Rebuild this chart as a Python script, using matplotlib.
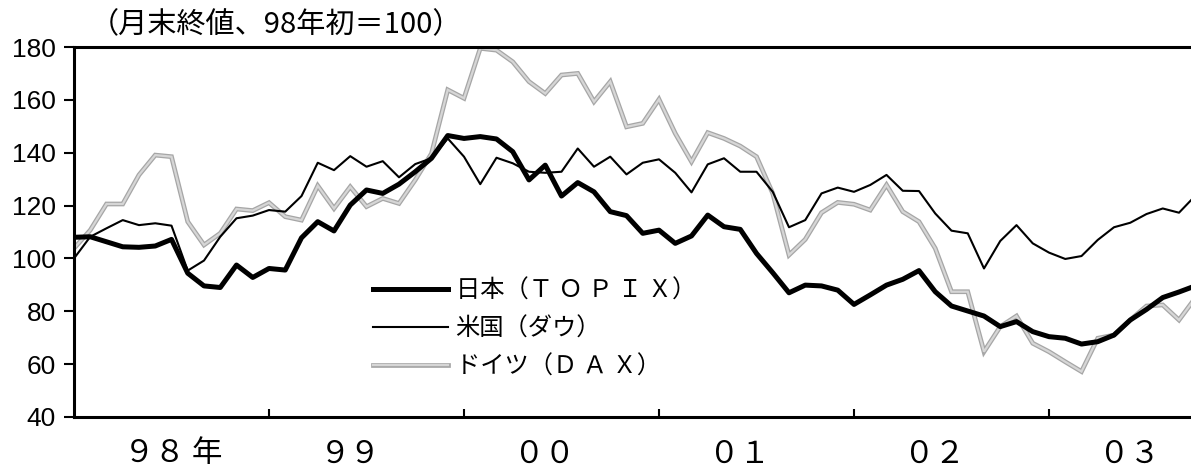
import numpy as np
import matplotlib
matplotlib.use("Agg")
import matplotlib.pyplot as plt
import matplotlib.patheffects as pe
import matplotlib.transforms as mtransforms

# Month-end closes, Jan 1998 .. Oct 2003, indexed to start of 1998 = 100
topix = [108.0, 108.2, 106.3, 104.4, 104.2, 104.7, 107.2, 94.4, 89.6, 89.0, 97.5, 92.8,
         96.2, 95.6, 107.8, 113.9, 110.4, 120.2, 125.9, 124.6, 128.1, 132.8, 137.9, 146.5,
         145.4, 146.1, 145.2, 140.4, 129.7, 135.3, 123.6, 128.7, 125.2, 117.7, 116.2, 109.5,
         110.7, 105.7, 108.5, 116.4, 112.0, 111.0, 101.9, 94.6, 87.0, 89.9, 89.6, 88.0,
         82.6, 86.2, 89.9, 92.1, 95.4, 87.4, 82.0, 80.1, 78.2, 74.2, 76.1, 72.3,
         70.4, 69.8, 67.6, 68.5, 71.0, 76.7, 80.7, 85.2, 87.3, 89.6]
dow = [100.0, 108.2, 111.4, 114.5, 112.6, 113.3, 112.4, 95.4, 99.2, 108.2, 115.2, 116.2,
       118.3, 117.7, 123.6, 136.2, 133.4, 138.7, 134.7, 136.8, 130.7, 135.7, 137.9, 145.4,
       138.5, 128.1, 138.1, 136.0, 132.8, 132.4, 132.8, 141.6, 134.7, 138.5, 131.8, 136.2,
       137.5, 132.4, 125.0, 135.6, 137.9, 132.8, 132.8, 125.2, 111.8, 114.5, 124.6, 126.8,
       125.2, 127.8, 131.6, 125.6, 125.5, 117.0, 110.5, 109.5, 96.2, 106.6, 112.6, 105.7,
       102.2, 99.8, 100.9, 107.0, 111.8, 113.5, 116.8, 118.9, 117.3, 123.7]
dax = [103.8, 110.7, 120.6, 120.6, 131.6, 139.1, 138.5, 113.9, 105.1, 109.5, 118.7, 118.1,
       121.1, 115.8, 114.5, 127.5, 118.9, 127.1, 119.6, 122.7, 120.8, 129.7, 139.7, 163.8,
       160.6, 179.5, 178.8, 174.4, 166.9, 162.4, 169.4, 170.0, 159.3, 166.9, 149.8, 151.1,
       160.2, 147.3, 136.6, 147.6, 145.4, 142.5, 138.5, 124.6, 101.3, 107.2, 117.3, 121.2,
       120.5, 118.3, 127.8, 117.7, 113.9, 103.8, 87.4, 87.4, 64.7, 74.2, 78.2, 67.9,
       64.7, 60.9, 57.2, 69.8, 71.0, 76.7, 82.0, 82.4, 76.7, 85.0]

series_labels = ["日本（Ｔ Ｏ Ｐ Ｉ Ｘ）", "米国（ダウ）", "ドイツ（Ｄ Ａ Ｘ）"]
year_labels = ["９８ 年", "９９", "００", "０１", "０２", "０３"]
y_ticks = [40, 60, 80, 100, 120, 140, 160, 180]
title_text = "（月末終値、98年初＝100）"

CJK = ["Noto Sans CJK JP", "DejaVu Sans"]
LATIN = ["Liberation Sans", "DejaVu Sans"]

W, H = 1191, 468
fig = plt.figure(figsize=(W / 100, H / 100), dpi=100)
left_px, bottom_px, top_px = 74, 417, 47
month_px = 16.25
ax = fig.add_axes([left_px / W, (H - bottom_px) / H, (W - left_px) / W, (bottom_px - top_px) / H])

x = np.arange(len(topix))

ax.plot(x, dax, color="#d6d6d6", lw=1.6, zorder=2, solid_joinstyle="miter",
        path_effects=[pe.Stroke(linewidth=3.4, foreground="#a6a6a6"), pe.Normal()],
        label=series_labels[2])
ax.plot(x, dow, color="black", lw=1.5, zorder=3, label=series_labels[1])
ax.plot(x, topix, color="black", lw=3.6, zorder=4, label=series_labels[0])

ax.set_xlim(0, (W - left_px) / month_px)
ax.set_ylim(40, 180)

for s in ["left", "bottom", "top"]:
    ax.spines[s].set_linewidth(2.2)
ax.spines["right"].set_visible(False)

ax.set_yticks(y_ticks)
ax.set_yticklabels([str(v) for v in y_ticks], family=LATIN, fontsize=19)
ax.tick_params(axis="y", direction="out", length=7, width=1.5, pad=6)

ax.set_xticks([12, 24, 36, 48, 60])
ax.set_xticklabels([])
ax.tick_params(axis="x", direction="in", length=6, width=1.5)

trans = mtransforms.blended_transform_factory(ax.transData, ax.transAxes)
for k, lab in enumerate(year_labels):
    ax.text(12 * k + 3.1, -0.1, lab, transform=trans, ha="left", va="center",
            family=CJK, fontsize=22)

fig.text(90 / W, 1 - 25 / H, title_text, ha="left", va="center",
         family=CJK, fontsize=21)

handles, labels = ax.get_legend_handles_labels()
order = [2, 1, 0]
leg = ax.legend([handles[i] for i in order], [labels[i] for i in order],
                loc="upper left", bbox_to_anchor=(373 / W, 1 - 278 / H),
                bbox_transform=fig.transFigure, frameon=False,
                prop={"family": CJK, "size": 17.5},
                handlelength=3.1, handletextpad=0.3, labelspacing=0.48,
                borderpad=0, borderaxespad=0)

fig.savefig("out.png", dpi=100)
